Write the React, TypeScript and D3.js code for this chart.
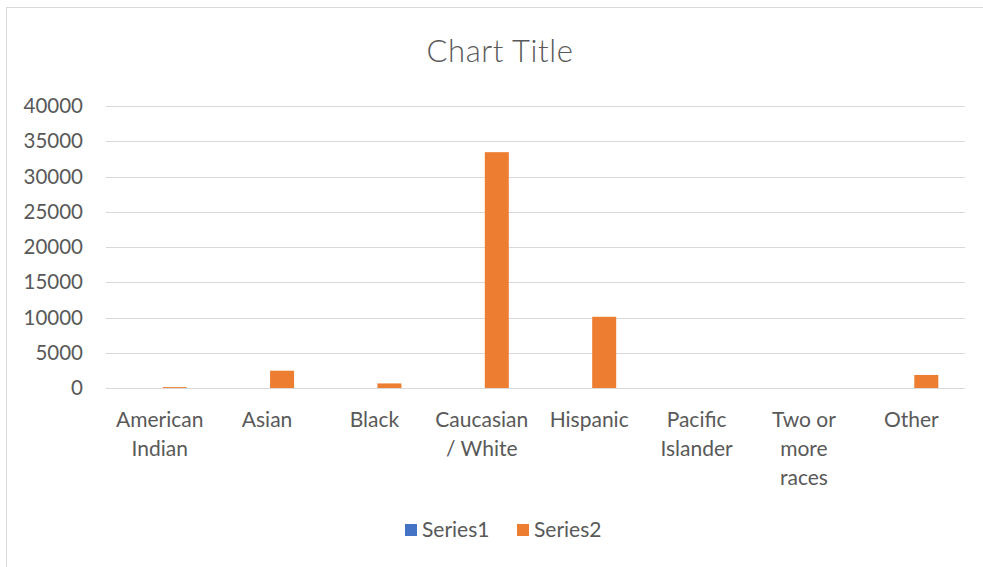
import React from "react";
import * as d3 from "d3";

const categories = [
  "American Indian",
  "Asian",
  "Black",
  "Caucasian / White",
  "Hispanic",
  "Pacific Islander",
  "Two or more races",
  "Other",
];
const seriesNames = ["Series1", "Series2"];
const series1 = [0, 0, 0, 0, 0, 0, 0, 0];
const series2 = [130, 2450, 650, 33450, 10100, 0, 0, 1850];
const yTicks = [0, 5000, 10000, 15000, 20000, 25000, 30000, 35000, 40000];
const colors = ["#4472C4", "#ED7D31"];

const W = 983;
const H = 567;
const FONT = "Lato, 'Open Sans', sans-serif";

function wrap(text: string, maxW: number, font: string): string[] {
  const c = document.createElement("canvas").getContext("2d")!;
  c.font = font;
  const words = text.split(" ");
  const lines: string[] = [];
  let cur = "";
  for (const w of words) {
    const t = cur ? cur + " " + w : w;
    if (cur && c.measureText(t).width > maxW) {
      lines.push(cur);
      cur = w;
    } else cur = t;
  }
  if (cur) lines.push(cur);
  return lines;
}

export default function App() {
  const left = 106, right = 965, top = 106, bottom = 388;
  const x0 = d3.scaleBand<string>().domain(categories).range([left, right]).padding(0);
  const y = d3.scaleLinear().domain([0, 40000]).range([bottom, top]);
  const x1 = d3.scaleBand<string>().domain(seriesNames).range([-21, 27]).padding(0);
  const data = [series1, series2];
  const labelSize = 21;
  const labelFont = `${labelSize}px ${FONT}`;

  return (
    <svg width={W} height={H} style={{ position: "absolute", left: 0, top: 0 }} fontFamily={FONT}>
      <rect x={0} y={0} width={W} height={H} fill="#fff" />
      <rect x={6.5} y={7.5} width={W + 20} height={H + 20} fill="#fff" stroke="#D9D9D9" strokeWidth={1} />
      <text x={500} y={62} textAnchor="middle" fontSize={31} fontWeight={300} letterSpacing={0.6} fill="#595959">Chart Title</text>
      {yTicks.map((t) => (
        <g key={t}>
          <line x1={left} x2={right} y1={Math.round(y(t)) + 0.5} y2={Math.round(y(t)) + 0.5} stroke="#D9D9D9" strokeWidth={1} />
          <text x={83} y={y(t) + 7} textAnchor="end" fontSize={20.5} fill="#595959">{t}</text>
        </g>
      ))}
      {categories.map((c, i) => (
        <g key={c}>
          {data.map((s, si) => {
            const xc = x0(c)! + x0.bandwidth() / 2 + x1(seriesNames[si])!;
            const v = s[i];
            if (v <= 0) return null;
            return (
              <rect key={si} x={xc} width={x1.bandwidth()} y={y(v)} height={y(0) - y(v)} fill={colors[si]} />
            );
          })}
          {wrap(c, 96, labelFont).map((ln, li) => (
            <text key={li} x={x0(c)! + x0.bandwidth() / 2} y={427 + li * 29} textAnchor="middle" fontSize={labelSize} fill="#595959">{ln}</text>
          ))}
        </g>
      ))}
      {seriesNames.map((s, i) => (
        <g key={s} transform={`translate(${405 + i * 112},0)`}>
          <rect x={0} y={524} width={12} height={12} fill={colors[i]} />
          <text x={17} y={537} fontSize={labelSize} fill="#595959">{s}</text>
        </g>
      ))}
    </svg>
  );
}
